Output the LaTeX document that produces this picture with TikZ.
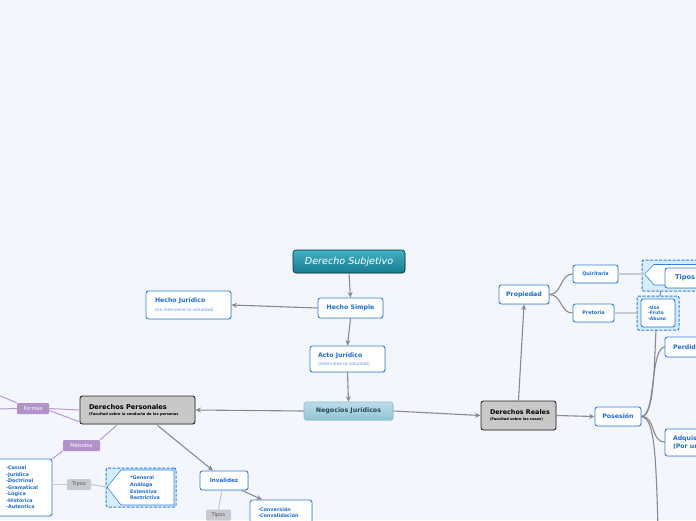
\documentclass[tikz,border=0pt]{standalone}
\usepackage{fontspec}
\setmainfont{DejaVu Sans}
\usetikzlibrary{arrows.meta,shadows,calc}
\definecolor{bg}{RGB}{243,246,253}
\definecolor{bblue}{RGB}{47,128,224}
\definecolor{tblue}{RGB}{28,108,210}
\definecolor{lblue}{RGB}{90,150,225}
\definecolor{cgray}{RGB}{138,138,142}
\definecolor{lgray}{RGB}{200,202,206}
\definecolor{purp}{RGB}{184,152,207}
\definecolor{purpfill}{RGB}{178,146,202}
\definecolor{chfill}{RGB}{214,237,252}
\definecolor{graybox}{RGB}{200,200,200}
\newcommand{\fsz}[2]{\fontsize{#1}{#2}\selectfont}
\tikzset{
  bx/.style={draw=bblue, fill=white, rounded corners=2.5pt, line width=0.9pt, inner sep=0pt,
    text=tblue, font=\fsz{6.2}{7.5}\bfseries,
    drop shadow={shadow xshift=0.7pt, shadow yshift=-0.7pt, opacity=0.25}},
  gbx/.style={draw=black!85, fill=graybox, rounded corners=2.5pt, line width=0.9pt, inner sep=0pt,
    text=black, align=flush left, font=\fsz{3.6}{4.5},
    drop shadow={shadow xshift=0.7pt, shadow yshift=-0.7pt, opacity=0.25}},
  lab/.style={inner sep=0pt, rounded corners=1pt, font=\fsz{5.2}{6}},
  conn/.style={draw=cgray, line width=1.1pt, -{Stealth[length=5.5pt,width=5pt]}},
  gline/.style={draw=cgray, line width=1.1pt},
  lline/.style={draw=lgray, line width=1.1pt},
  pline/.style={draw=purp, line width=1pt},
  dashbox/.style={draw=bblue, fill=chfill, dash pattern=on 3pt off 1.5pt, line width=1pt,
    rounded corners=2pt, inner sep=0pt},
  chev/.style={draw=bblue, fill=white, line width=0.6pt},
}
\begin{document}
\begin{tikzpicture}[x=1pt,y=-1pt]
\useasboundingbox (0,0) rectangle (696,520);
\clip (0,0) rectangle (696,520);
\fill[bg] (0,0) rectangle (696,520);

% ---------- free ends ----------
\coordinate (dpjoin) at (117,425);
\coordinate (fl1) at (-2,395);
\coordinate (fl2) at (-2,409);
\coordinate (posdown) at (658,530);
\coordinate (tipjoin) at (661,288);

% ---------- nodes ----------
\node[draw=black!60!teal, line width=0.6pt, rounded corners=3pt, top color={rgb,255:red,64;green,176;blue,196},
  bottom color={rgb,255:red,24;green,124;blue,144}, minimum width=112pt, minimum height=23pt, inner sep=0pt,
  text=white, font=\fsz{9.6}{11}\itshape,
  drop shadow={shadow xshift=0.7pt, shadow yshift=-0.7pt, opacity=0.25}] (ds) at (349,261.5) {Derecho Subjetivo};

\node[bx, minimum width=65pt, minimum height=20pt] (hs) at (350.5,308) {Hecho Simple};

\node[bx, text width=67pt, inner xsep=9pt, minimum height=28pt, align=flush left] (hj) at (188.5,305)
  {Hecho Jurídico\\[1pt]{\fsz{4.4}{5}\mdseries\color{lblue}(no interviene la voluntad)}};

\node[bx, text width=59pt, inner xsep=8pt, minimum height=26pt, align=flush left] (aj) at (347.5,359)
  {Acto Jurídico\\[0.5pt]{\fsz{4.4}{5}\mdseries\color{lblue}(interviene la voluntad)}};

\node[draw={rgb,255:red,140;green,190;blue,206}, line width=0.6pt, rounded corners=2.5pt,
  top color={rgb,255:red,186;green,222;blue,234}, bottom color={rgb,255:red,146;green,196;blue,212},
  minimum width=89pt, minimum height=18pt, inner sep=0pt, text={rgb,255:red,40;green,70;blue,90},
  font=\fsz{6.3}{7.5}\bfseries,
  drop shadow={shadow xshift=0.7pt, shadow yshift=-0.7pt, opacity=0.25}] (nj) at (348.5,411) {Negocios Jurídicos};

\node[gbx, text width=97pt, inner xsep=9pt, minimum height=28pt] (dp) at (137.5,410)
  {\mbox{\fsz{6.6}{8}\bfseries Derechos Personales}\\[1.5pt]\mbox{\fsz{3.6}{4.5}\bfseries (Facultad sobre la conducta de las personas}};

\node[gbx, text width=57pt, inner xsep=9pt, minimum height=29pt] (dr) at (518.5,415.5)
  {\mbox{\fsz{6.4}{8}\bfseries Derechos Reales}\\[1.5pt]\mbox{\fsz{3.6}{4.5}\bfseries (Facultad sobre las cosas)}};

\node[bx, minimum width=50pt, minimum height=19pt] (prop) at (524,294.5) {Propiedad};
\node[bx, minimum width=45pt, minimum height=18pt, font=\fsz{4.9}{6}\bfseries] (quir) at (595.5,274) {Quiritaria};
\node[bx, minimum width=41pt, minimum height=18pt, font=\fsz{4.9}{6}\bfseries] (pret) at (593.5,313) {Pretoria};
\node[bx, minimum width=46pt, minimum height=19pt] (pos) at (618,416.5) {Posesión};

% connectors behind boxes on the right
\draw[gline] (pos.east) .. controls (654,416) and (654,370) .. (656,330) -- (tipjoin);
\draw[gline] (pos.east) .. controls (656,416) and (650,347) .. (665,347);
\draw[gline] (pos.east) .. controls (656,416) and (650,442) .. (665,442);
\draw[gline] (pos.east) .. controls (654,418) and (656,450) .. (posdown);

\node[bx, text width=52pt, inner xsep=8pt, minimum height=20pt, align=flush left] (perd) at (699,347) {Perdida};
\node[bx, text width=52pt, inner xsep=8pt, minimum height=27pt, align=flush left, font=\fsz{6.2}{7.8}\bfseries] (adq) at (699,442.5) {Adquisición\\(Por un};

% top-right Tipos container
\node[dashbox, minimum width=58pt, minimum height=31pt] (tc) at (671,275.5) {};
\coordinate (tcn) at (644.5,274);
\draw[chev] (tcn) -- (654,264.5) -- (700,264.5) -- (700,285) -- (654,285) -- cycle;
\node[bx, minimum width=40pt, minimum height=20pt, font=\fsz{6.6}{8}\bfseries] (tr) at (685,278) {Tipos};

% Uso container
\node[dashbox, minimum width=42pt, minimum height=34pt] (uc) at (658,313) {};
\node[bx, text width=20pt, inner xsep=7pt, minimum height=28pt, align=flush left, font=\fsz{4.6}{5.5}\bfseries] (ui) at (658,313) {-Uso\\-Fruto\\-Abuso};

% left side
\node[bx, text width=35pt, inner xsep=11pt, minimum height=57pt, align=flush left, font=\fsz{4.9}{6.5}\bfseries] (cb) at (23.5,487.5)
  {-Casual\\-Jurídica\\-Doctrinal\\-Gramatical\\-Lógica\\-Histórica\\-Autentica};

\node[dashbox, minimum width=70pt, minimum height=39pt] (bc) at (141,487.5) {};
\coordinate (bcn) at (107,487);
\draw[chev] (bcn) -- (121,470) -- (174,470) -- (174,505) -- (121,505) -- cycle;
\node[inner sep=0pt, text width=40pt, align=flush left, text=tblue, font=\fsz{4.9}{6.6}\bfseries] (bct) at (150,488)
  {*General\\*Análoga\\*Extensiva\\*Restrictiva};

\node[bx, minimum width=48pt, minimum height=19pt, font=\fsz{5.6}{7}\bfseries] (inv) at (224,480.5) {Invalidez};
\node[bx, text width=46pt, inner xsep=8pt, minimum height=26pt, align=flush left, font=\fsz{4.9}{6}\bfseries] (cv) at (281,513)
  {-Conversión\\-Convalidación};

% labels
\node[lab, fill=purpfill, text=white, minimum width=32pt, minimum height=11pt] (formas) at (33,408.5) {Formas};
\node[lab, fill=purpfill, text=white, minimum width=37pt, minimum height=11pt] (metodos) at (81.5,445.5) {Métodos};
\node[lab, fill=lgray, text=black!65, minimum width=24pt, minimum height=11pt] (tip1) at (79,484.5) {Tipos};
\node[lab, fill=lgray, text=black!65, minimum width=25pt, minimum height=11pt] (tip2) at (218.5,515) {Tipos};

% ---------- connectors ----------
\draw[conn] (ds.south) -- (hs.north);
\draw[conn] (hs.west) -- (hj.east);
\draw[conn] (hs.south) -- (aj.north);
\draw[conn] (aj.south) -- (nj.north);
\draw[conn] (nj.west) -- (dp.east);
\draw[conn] (nj.east) -- (dr.west);
\draw[conn] (dr.north) -- (prop.south);
\draw[conn] (dr.east) -- (pos.west);
\draw[conn] ($(dp.south)+(20,1)$) -- ($(inv.north)+(-11,0)$);
\draw[conn] ($(inv.south)+(18,0)$) -- ($(cv.north)+(-19,0)$);

\draw[gline] (prop.east) .. controls (562,294.5) and (560,274) .. (quir.west);
\draw[gline] (prop.east) .. controls (562,294.5) and (560,313) .. (pret.west);

\draw[lline] (quir.east) -- (tcn);
\draw[lline] (pret.east) -- (uc.west);
\draw[lline] (cb.east |- tip1) -- (tip1.west);
\draw[lline] (tip1.east) -- (bcn);
\draw[lline] ($(inv.south)+(-2,0)$) -- (tip2.north);

\draw[pline] (fl1) -- (formas.north west);
\draw[pline] (fl2) -- (formas.west);
\draw[pline] (formas.east) -- (dp.west);
\draw[pline] ($(formas.east)+(0,2)$) -- (80,422);
\draw[pline] (metodos.north east) -- (dpjoin);
\draw[pline] (metodos.south west) -- (cb.north east);
\end{tikzpicture}
\end{document}
